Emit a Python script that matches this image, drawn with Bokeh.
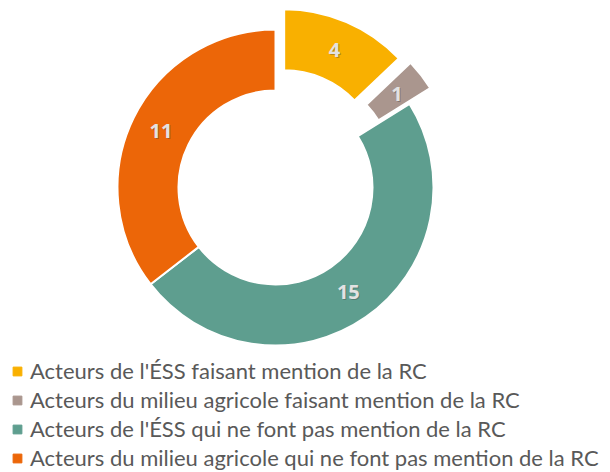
import math
from bokeh.plotting import figure
from bokeh.models import Range1d, Legend, LegendItem, ColumnDataSource
from bokeh.core.properties import value
from bokeh.embed import file_html
from bokeh.resources import INLINE

categories = [
    "Acteurs de l'ÉSS faisant mention de la RC",
    "Acteurs du milieu agricole faisant mention de la RC",
    "Acteurs de l'ÉSS qui ne font pas mention de la RC",
    "Acteurs du milieu agricole qui ne font pas mention de la RC",
]
counts = [4, 1, 15, 11]
colors = ["#F9B000", "#AA968E", "#5E9E8F", "#EC6608"]
explode = [22, 26, 0, 0]

W, H = 610, 472
p = figure(width=W, height=H, output_backend="svg", toolbar_location=None,
           x_range=Range1d(0, W), y_range=Range1d(0, H),
           min_border=0, outline_line_color=None)
p.axis.visible = False
p.grid.visible = False
p.background_fill_color = "white"

cx, cy = 275, H - 187
R_out, R_in = 158, 97
total = sum(counts)
cum = 0
xs, ys, sa, ea, lx, ly = [], [], [], [], [], []
for c, e in zip(counts, explode):
    a0 = math.pi / 2 - 2 * math.pi * cum / total
    a1 = math.pi / 2 - 2 * math.pi * (cum + c) / total
    mid = (a0 + a1) / 2
    ox, oy = cx + e * math.cos(mid), cy + e * math.sin(mid)
    xs.append(ox); ys.append(oy); sa.append(a0); ea.append(a1)
    rm = (R_out + R_in) / 2
    lx.append(ox + rm * math.cos(mid)); ly.append(oy + rm * math.sin(mid))
    cum += c

src = ColumnDataSource(dict(x=xs, y=ys, sa=sa, ea=ea, color=colors,
                            lx=lx, ly=ly, txt=[str(c) for c in counts]))
p.annular_wedge(x="x", y="y", inner_radius=R_in, outer_radius=R_out,
                start_angle="sa", end_angle="ea", direction="clock",
                fill_color="color", line_color="white", line_width=2, source=src)

# label shadow + label
p.text(x="lx", y="ly", text="txt", source=src, x_offset=1, y_offset=1,
       text_color="#404040", text_alpha=0.35, text_font=value("Open Sans"),
       text_font_size="20px", text_font_style="bold",
       text_align="center", text_baseline="middle")
p.text(x="lx", y="ly", text="txt", source=src,
       text_color="#E2E2E2", text_font=value("Open Sans"),
       text_font_size="20px", text_font_style="bold",
       text_align="center", text_baseline="middle")

items = []
for cat, col in zip(categories, colors):
    r = p.scatter(x=[-1000], y=[-1000], marker="square", size=9,
                  fill_color=col, line_color=col)
    items.append(LegendItem(label=cat, renderers=[r]))

legend = Legend(items=items, location=(6, 1), orientation="vertical",
                glyph_width=22, glyph_height=26, label_height=26, spacing=2,
                padding=0, margin=0, label_standoff=2,
                border_line_color=None, background_fill_alpha=0,
                label_text_font="Lato", label_text_font_size="22px",
                label_text_color="#595959")
p.add_layout(legend, "center")

open("out.html", "w").write(file_html(p, INLINE))
